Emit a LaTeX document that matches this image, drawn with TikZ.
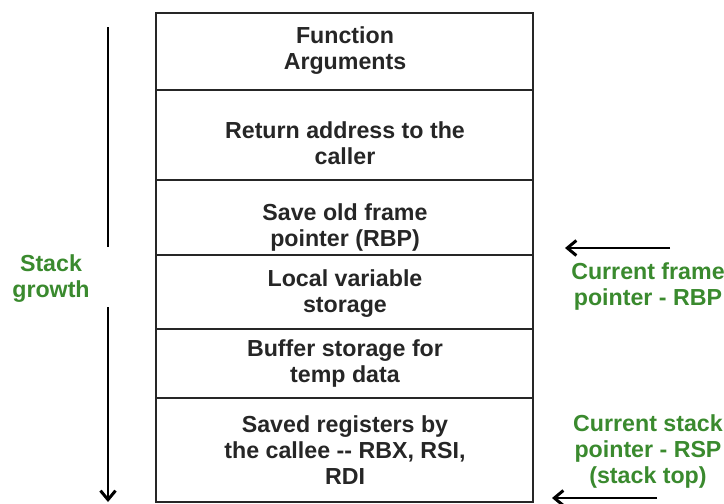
\documentclass[tikz,border=0pt]{standalone}
\usepackage{fontspec}
\setmainfont{Liberation Sans}
\usetikzlibrary{arrows.meta}
\definecolor{ggreen}{RGB}{58,138,46}
\begin{document}
\begin{tikzpicture}[x=1pt,y=-1pt,
  cellline/.style={line width=1.8pt,black!85},
  celltext/.style={align=center,font=\fontsize{23.2}{26}\selectfont\bfseries,text=black!85,inner sep=0pt},
  greentext/.style={align=center,font=\fontsize{23.2}{26}\selectfont\bfseries,text=ggreen,inner sep=0pt},
  arrowline/.style={line width=2pt,black},
  tipstyle/.style={-{Straight Barb[length=9pt,width=15pt,line width=3pt]}}]
\useasboundingbox (0,0) rectangle (724,504);
% cells
\draw[cellline] (156,13) rectangle (533,502);
\draw[cellline] (156,90) -- (533,90);
\draw[cellline] (156,180) -- (533,180);
\draw[cellline] (156,255) -- (533,255);
\draw[cellline] (156,329) -- (533,329);
\draw[cellline] (156,398) -- (533,398);
% cell texts
\node[celltext] (args) at (345,51) {Function\\Arguments};
\node[celltext] (ret) at (345,143) {Return address to the\\caller};
\node[celltext] (rbp) at (345,227) {Save old frame\\pointer (RBP)};
\node[celltext] (local) at (345,294) {Local variable\\storage};
\node[celltext] (buf) at (345,363) {Buffer storage for\\temp data};
\node[celltext] (saved) at (345,450) {Saved registers by\\the callee -{}- RBX, RSI,\\RDI};
% stack growth
\node[greentext] (growth) at (51,279) {Stack\\growth};
\coordinate (g1) at (108,27);
\coordinate (g2) at (108,247);
\coordinate (g3) at (108,307);
\coordinate (g4) at (108,502);
\draw[arrowline] (g1) -- (g2);
\draw[arrowline,tipstyle] (g3) -- (g4);
% right labels
\node[greentext] (frame) at (648,286) {Current frame\\pointer - RBP};
\node[greentext] (stack) at (648,451) {Current stack\\pointer - RSP\\(stack top)};
\coordinate (f1) at (670,248);
\coordinate (f2) at (565,248);
\coordinate (s1) at (657,498);
\coordinate (s2) at (552,498);
\draw[arrowline,tipstyle] (f1) -- (f2);
\draw[arrowline,tipstyle] (s1) -- (s2);
\end{tikzpicture}
\end{document}
